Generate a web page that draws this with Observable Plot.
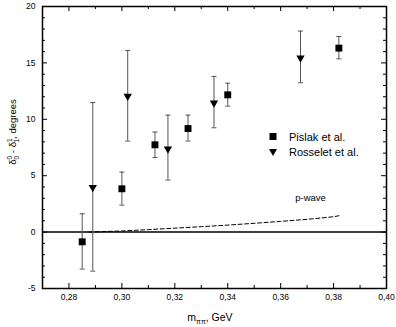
<!DOCTYPE html>
<html>
<head>
<meta charset="utf-8">
<script src="https://cdn.jsdelivr.net/npm/d3@7"></script>
<script src="https://cdn.jsdelivr.net/npm/@observablehq/plot@0.6"></script>
<style>
  html, body { margin: 0; padding: 0; background: white; }
  #chart { width: 396px; height: 327px; }
</style>
</head>
<body>
<div id="chart"></div>
<script>
// ---- data ----
const pislakX  = [0.285, 0.300, 0.3125, 0.325, 0.340, 0.382];
const pislakY  = [-0.86, 3.84, 7.74, 9.18, 12.17, 16.31];
const pislakHi = [1.62, 5.32, 8.87, 10.37, 13.20, 17.34];
const pislakLo = [-3.28, 2.39, 6.61, 8.07, 11.17, 15.36];

const rosseletX  = [0.289, 0.3022, 0.3174, 0.3348, 0.3675];
const rosseletY  = [3.96, 12.05, 7.38, 11.46, 15.45];
const rosseletHi = [11.49, 16.10, 10.37, 13.80, 17.82];
const rosseletLo = [-3.46, 8.07, 4.61, 9.25, 13.24];

const pwaveX = [0.2875, 0.29, 0.30, 0.31, 0.32, 0.33, 0.34, 0.35, 0.36, 0.37, 0.38, 0.382];
const pwaveY = [0, 0.02, 0.10, 0.22, 0.35, 0.48, 0.62, 0.78, 0.95, 1.13, 1.36, 1.45];

const xMajor = [0.28, 0.30, 0.32, 0.34, 0.36, 0.38, 0.40];
const xMinor = [0.27, 0.29, 0.31, 0.33, 0.35, 0.37, 0.39];
const yMajor = [-5, 0, 5, 10, 15, 20];
const yMinor = [-4, -3, -2, -1, 1, 2, 3, 4, 6, 7, 8, 9, 11, 12, 13, 14, 16, 17, 18, 19];

const seriesNames = ["Pislak et al.", "Rosselet et al."];
const pwaveLabel = "p-wave";

// ---- tables ----
const pislak = pislakX.map((x, i) => ({x, y: pislakY[i], hi: pislakHi[i], lo: pislakLo[i]}));
const rosselet = rosseletX.map((x, i) => ({x, y: rosseletY[i], hi: rosseletHi[i], lo: rosseletLo[i]}));
const pwave = pwaveX.map((x, i) => ({x, y: pwaveY[i]}));
const allPts = pislak.concat(rosselet);

const capSymbol = {
  draw(context, size) {
    const w = Math.sqrt(size / Math.PI);
    context.moveTo(-w, 0);
    context.lineTo(w, 0);
  }
};

const W = 396, H = 327, ML = 42, MR = 10, MT = 6, MB = 39;
const FW = W - ML - MR, FH = H - MT - MB;
const errColor = "#555";

const svg = Plot.plot({
  width: W, height: H,
  marginLeft: ML, marginRight: MR, marginTop: MT, marginBottom: MB,
  x: {domain: [0.27, 0.40]},
  y: {domain: [-5, 20]},
  style: {fontFamily: "'Liberation Sans', Arial, sans-serif", fontSize: "8.5px", background: "white", color: "black"},
  marks: [
    // tick marks, inward, all four sides
    Plot.ruleX(xMajor, {x: d => d, insetTop: FH - 5, stroke: "black"}),
    Plot.ruleX(xMinor, {x: d => d, insetTop: FH - 3, stroke: "black"}),
    Plot.ruleX(xMajor, {x: d => d, insetBottom: FH - 5, stroke: "black"}),
    Plot.ruleX(xMinor, {x: d => d, insetBottom: FH - 3, stroke: "black"}),
    Plot.ruleY(yMajor, {y: d => d, insetRight: FW - 5, stroke: "black"}),
    Plot.ruleY(yMinor, {y: d => d, insetRight: FW - 3, stroke: "black"}),
    Plot.ruleY(yMajor, {y: d => d, insetLeft: FW - 5, stroke: "black"}),
    Plot.ruleY(yMinor, {y: d => d, insetLeft: FW - 3, stroke: "black"}),
    // tick labels
    Plot.axisX(xMajor, {tickSize: 0, tickPadding: 5, label: null, tickFormat: d => d.toFixed(2).replace(".", ",")}),
    Plot.axisY(yMajor, {tickSize: 0, tickPadding: 7, label: null, tickFormat: d => String(d)}),
    // zero line
    Plot.ruleY([0], {stroke: "black", strokeWidth: 1.5}),
    // p-wave
    Plot.line(pwave, {x: "x", y: "y", stroke: "black", strokeWidth: 1, strokeDasharray: "4,2.5"}),
    Plot.text([pwaveLabel], {x: 0.3713, y: 3.05, text: d => d, fontSize: 9.5}),
    // error bars
    Plot.ruleX(allPts, {x: "x", y1: "lo", y2: "hi", stroke: errColor, strokeWidth: 1}),
    Plot.dot(allPts, {x: "x", y: "hi", symbol: capSymbol, r: 2.5, stroke: errColor, strokeWidth: 1, fill: "none"}),
    Plot.dot(allPts, {x: "x", y: "lo", symbol: capSymbol, r: 2.5, stroke: errColor, strokeWidth: 1, fill: "none"}),
    // markers
    Plot.dot(pislak, {x: "x", y: "y", symbol: "square", r: 3.9, fill: "black", stroke: "none"}),
    Plot.dot(rosselet, {x: "x", y: "y", symbol: "triangle", r: 3.1, rotate: 180, fill: "black", stroke: "none"}),
    Plot.frame({stroke: "black", strokeWidth: 1.5})
  ]
});

const root = d3.select(svg);
const ff = "'Liberation Sans', Arial, sans-serif";

// y label: δ_0^0 - δ_1^1, degrees
const yl = root.append("text")
  .attr("transform", "translate(16,132) rotate(-90)")
  .attr("text-anchor", "middle")
  .attr("font-family", ff)
  .attr("font-size", 9.5)
  .attr("fill", "black");
yl.append("tspan").text("δ");
yl.append("tspan").attr("font-size", 6.5).attr("dy", -4).text("0");
yl.append("tspan").attr("font-size", 6.5).attr("dx", -3.6).attr("dy", 7).text("0");
yl.append("tspan").attr("dy", -3).text(" - δ");
yl.append("tspan").attr("font-size", 6.5).attr("dy", -4).text("1");
yl.append("tspan").attr("font-size", 6.5).attr("dx", -3.6).attr("dy", 7).text("1");
yl.append("tspan").attr("dy", -3).text(", degrees");

// x label: m_ππ, GeV
const xl = root.append("text")
  .attr("x", 210).attr("y", 321)
  .attr("text-anchor", "middle")
  .attr("font-family", ff)
  .attr("font-size", 10.5)
  .attr("fill", "black");
xl.append("tspan").text("m");
xl.append("tspan").attr("font-size", 7).attr("dy", 2.5).text("ππ");
xl.append("tspan").attr("dy", -2.5).text(", GeV");

// legend
const lg = root.append("g").attr("font-family", ff).attr("font-size", 11).attr("text-anchor", "start");
lg.append("rect").attr("x", 269.5).attr("y", 133).attr("width", 7).attr("height", 7).attr("fill", "black");
lg.append("path").attr("d", "M269,149 L277,149 L273,156 Z").attr("fill", "black");
lg.append("text").attr("x", 289).attr("y", 140.5).attr("text-anchor", "start").text(seriesNames[0]);
lg.append("text").attr("x", 289).attr("y", 156).attr("text-anchor", "start").text(seriesNames[1]);

document.getElementById("chart").appendChild(svg);
</script>
</body>
</html>
